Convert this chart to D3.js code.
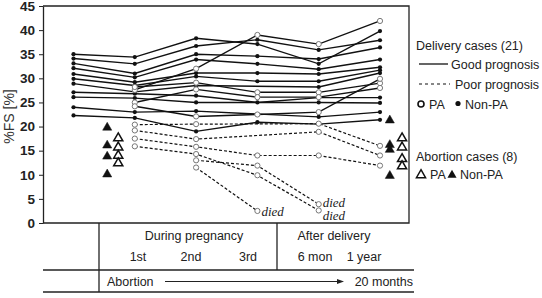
<!DOCTYPE html>
<html>
<head>
<meta charset="utf-8">
<script src="https://cdn.jsdelivr.net/npm/d3@7"></script>
<style>
  body { margin: 0; background: #fff; }
  text { font-family: "Liberation Sans", Arial, sans-serif; }
</style>
</head>
<body>
<div id="chart"></div>
<script>
// time points: pre, 1st, 2nd, 3rd, 6 mon, 1 year
const yTicks = [0, 5, 10, 15, 20, 25, 30, 35, 40, 45];

// good prognosis, non-PA (filled dots)
const goodNonPA = [
  [35.0, 34.4, 38.3, 37.1, 33.0, 39.8],
  [34.1, 33.0, 36.7, 38.0, 35.9, 37.9],
  [33.1, 31.0, 35.0, 34.6, 34.0, 36.4],
  [32.1, 30.2, 33.9, 33.0, 31.9, 33.9],
  [30.9, 29.2, 31.1, 31.1, 30.9, 32.3],
  [29.9, 28.5, 30.4, 29.4, 29.4, 31.7],
  [28.9, 27.2, 28.5, null, 28.2, 31.1],
  [27.1, 26.8, 26.4, 25.0, 26.0, 26.0],
  [26.1, 25.9, 25.0, null, 25.0, 24.9],
  [24.0, 23.0, 23.2, null, 22.0, 23.0],
  [22.3, 21.8, 19.0, 20.9, 20.5, 21.4]
];
// good prognosis, PA (open circles)
const goodPA = [
  [null, 27.6, 32.0, 39.0, 37.1, 41.9],
  [null, 28.2, 29.1, 27.1, 27.1, 29.0],
  [null, 25.0, 27.7, 26.1, 26.1, 28.0],
  [null, 24.2, 22.1, 22.5, 23.0, 29.9]
];
// poor prognosis, PA (dashed, open circles)
const poorPA = [
  [null, 20.4, 20.5, null, 20.6, 16.0],
  [null, 19.2, 17.4, null, 18.9, 14.0],
  [null, 17.5, 15.8, 14.0, 14.0, 11.9],
  [null, 15.9, 14.3, 9.9, 2.6, null],
  [null, null, 13.0, 11.9, 3.9, null],
  [null, null, 11.5, 2.5, null, null]
];
const poorDied = [false, false, false, true, true, true];

// abortion cases: at abortion and at 20 months
const abortNonPABefore = [20.0, 16.3, 14.0, 10.3];
const abortPABefore = [17.8, 15.9, 14.2, 12.6];
const abortNonPAAfter = [21.5, 16.4, 15.4, 10.0];
const abortPAAfter = [17.8, 15.9, 13.5, 12.0];

const W = 542, H = 298;
const svg = d3.select('#chart').append('svg')
  .attr('width', W).attr('height', H);

const x = d3.scaleLinear().domain([0, 5]).range([73.5, 380]);
const y = d3.scaleLinear().domain([0, 45]).range([223, 6]);
const pLeft = 43, pRight = 409, pTop = 6, pBottom = 223;

// frame
svg.append('path')
  .attr('d', `M${pLeft},${pTop}H${pRight}V${pBottom}H${pLeft}`)
  .attr('fill', 'none').attr('stroke', '#222').attr('stroke-width', 1.3);

// y axis
const yAxis = svg.append('g')
  .attr('transform', `translate(${pLeft},0)`)
  .call(d3.axisLeft(y).tickValues(yTicks).tickSize(4).tickSizeOuter(0).tickPadding(4));
yAxis.select('.domain').attr('stroke', '#222').attr('stroke-width', 1.3);
yAxis.selectAll('.tick line').attr('stroke', '#222');
yAxis.selectAll('text')
  .style('font-size', '13.5px').style('font-weight', 'bold')
  .style('font-family', '"Liberation Sans", Arial, sans-serif')
  .attr('fill', '#222');

svg.append('text')
  .attr('transform', `translate(14,${(pTop + pBottom) / 2 + 2}) rotate(-90)`)
  .attr('text-anchor', 'middle')
  .style('font-size', '14px').attr('fill', '#333')
  .text('%FS [%]');

const toPts = row => row.map((v, i) => ({ i, v })).filter(d => d.v != null);
const line = d3.line().x(d => x(d.i)).y(d => y(d.v));

// solid lines
const solid = goodNonPA.concat(goodPA);
svg.append('g').selectAll('path').data(solid).join('path')
  .attr('d', r => line(toPts(r)))
  .attr('fill', 'none').attr('stroke', '#111').attr('stroke-width', 1.4);

// dashed lines
svg.append('g').selectAll('path').data(poorPA).join('path')
  .attr('d', r => line(toPts(r)))
  .attr('fill', 'none').attr('stroke', '#111').attr('stroke-width', 1.2)
  .attr('stroke-dasharray', '3,2');

// filled dots
svg.append('g').selectAll('circle')
  .data(goodNonPA.flatMap(toPts)).join('circle')
  .attr('cx', d => x(d.i)).attr('cy', d => y(d.v)).attr('r', 2.1)
  .attr('fill', '#111');

// open circles
svg.append('g').selectAll('circle')
  .data(goodPA.concat(poorPA).flatMap(toPts)).join('circle')
  .attr('cx', d => x(d.i)).attr('cy', d => y(d.v)).attr('r', 2.6)
  .attr('fill', '#fff').attr('stroke', '#777').attr('stroke-width', 1);

// died labels
const diedDy = { 3: 10, 4: 2.5, 5: 5 };
poorPA.forEach((r, k) => {
  if (!poorDied[k]) return;
  const p = toPts(r).slice(-1)[0];
  svg.append('text')
    .attr('x', x(p.i) + 4).attr('y', y(p.v) + diedDy[k])
    .style('font-family', '"Liberation Serif", "Times New Roman", serif')
    .style('font-style', 'italic').style('font-size', '13px')
    .attr('fill', '#222').text('died');
});

// abortion triangles
const tri = d3.symbol().type(d3.symbolTriangle).size(36);
function triangles(vals, xi, filled) {
  svg.append('g').selectAll('path').data(vals).join('path')
    .attr('d', tri)
    .attr('transform', v => `translate(${x(xi)},${y(v) + 1})`)
    .attr('fill', filled ? '#111' : '#fff')
    .attr('stroke', '#111').attr('stroke-width', filled ? 0.5 : 1.5);
}
triangles(abortNonPABefore, 0.55, true);
triangles(abortPABefore, 0.73, false);
triangles(abortNonPAAfter, 5.16, true);
triangles(abortPAAfter, 5.36, false);

// legend
const lg = svg.append('g').style('font-size', '12.5px').attr('fill', '#222');
lg.append('text').attr('x', 416).attr('y', 50).text('Delivery cases (21)');
lg.append('line').attr('x1', 419).attr('x2', 448).attr('y1', 64).attr('y2', 64)
  .attr('stroke', '#111').attr('stroke-width', 1.3);
lg.append('text').attr('x', 451).attr('y', 68.5).text('Good prognosis');
lg.append('line').attr('x1', 419).attr('x2', 450).attr('y1', 84).attr('y2', 84)
  .attr('stroke', '#111').attr('stroke-width', 1.2).attr('stroke-dasharray', '3,3');
lg.append('text').attr('x', 455).attr('y', 88.5).text('Poor prognosis');
lg.append('circle').attr('cx', 421).attr('cy', 104).attr('r', 3)
  .attr('fill', '#fff').attr('stroke', '#111').attr('stroke-width', 1.6);
lg.append('text').attr('x', 429).attr('y', 108.5).text('PA');
lg.append('circle').attr('cx', 458).attr('cy', 103.5).attr('r', 2.6).attr('fill', '#111');
lg.append('text').attr('x', 465).attr('y', 108.5).text('Non-PA');
lg.append('text').attr('x', 416).attr('y', 161).text('Abortion cases (8)');
lg.append('path').attr('d', tri).attr('transform', 'translate(421,175)')
  .attr('fill', '#fff').attr('stroke', '#111').attr('stroke-width', 1.5);
lg.append('text').attr('x', 430).attr('y', 179).text('PA');
lg.append('path').attr('d', tri).attr('transform', 'translate(452,175)')
  .attr('fill', '#111');
lg.append('text').attr('x', 460).attr('y', 179).text('Non-PA');

// table below
const tb = svg.append('g').attr('stroke', '#222').attr('stroke-width', 1.3);
tb.append('line').attr('x1', 99).attr('x2', 99).attr('y1', pBottom).attr('y2', 292);
tb.append('line').attr('x1', 277).attr('x2', 277).attr('y1', pBottom).attr('y2', 270);
tb.append('line').attr('x1', pLeft).attr('x2', 414).attr('y1', 270).attr('y2', 270);
tb.append('line').attr('x1', pLeft).attr('x2', 414).attr('y1', 292).attr('y2', 292);

const tt = svg.append('g').style('font-size', '12.5px').attr('fill', '#222')
  .attr('text-anchor', 'middle');
tt.append('text').attr('x', 194).attr('y', 240).text('During pregnancy');
tt.append('text').attr('x', 334).attr('y', 240).text('After delivery');
const stageLabels = ['1st', '2nd', '3rd', '6 mon', '1 year'];
const stageX = [138, 191, 248, 315, 364];
stageLabels.forEach((s, k) => tt.append('text').attr('x', stageX[k]).attr('y', 261).text(s));
tt.append('text').attr('x', 107).attr('y', 286).attr('text-anchor', 'start').text('Abortion');
tt.append('text').attr('x', 413).attr('y', 286).attr('text-anchor', 'end').text('20 months');

svg.append('line').attr('x1', 165).attr('x2', 338).attr('y1', 281.5).attr('y2', 281.5)
  .attr('stroke', '#222').attr('stroke-width', 1);
svg.append('path').attr('d', 'M344,281.5L337,279L337,284Z').attr('fill', '#222');
</script>
</body>
</html>
